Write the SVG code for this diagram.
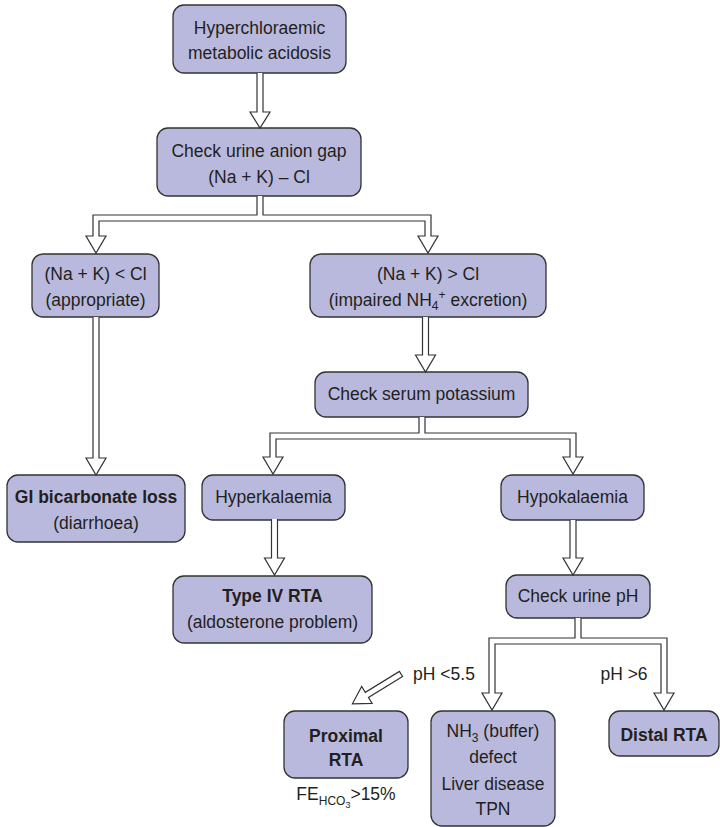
<svg xmlns="http://www.w3.org/2000/svg" width="720" height="827" viewBox="0 0 720 827">
<style>
.box{fill:#b9b9dd;stroke:#333;stroke-width:1.3}
.arr{fill:#fff;stroke:#333;stroke-width:1.2;stroke-linejoin:miter}
text{font-family:"Liberation Sans",Arial,sans-serif;font-size:17.5px;fill:#231f20;text-anchor:middle}
.b{font-weight:bold}
.s{font-size:12px}
</style>
<rect width="720" height="827" fill="#fff"/>
<g id="n1"><rect class="box" x="173" y="5" width="173" height="68" rx="11"/><text x="259.5" y="34">Hyperchloraemic</text><text x="259.5" y="59">metabolic acidosis</text></g>
<g id="n2"><rect class="box" x="157" y="128" width="204" height="68" rx="11"/><text x="259" y="157">Check urine anion gap</text><text x="259" y="183">(Na + K) – Cl</text></g>
<g id="n3"><rect class="box" x="32" y="254" width="127" height="63" rx="11"/><text x="95.5" y="280">(Na + K) &lt; Cl</text><text x="95.5" y="306">(appropriate)</text></g>
<g id="n4"><rect class="box" x="310" y="254" width="236" height="63" rx="11"/><text x="428" y="280">(Na + K) &gt; Cl</text><text x="428" y="306">(impaired NH<tspan class="s" dy="4">4</tspan><tspan class="s" dy="-11">+</tspan><tspan dy="7"> excretion)</tspan></text></g>
<g id="n5"><rect class="box" x="315" y="372" width="213" height="45" rx="11"/><text x="421.5" y="400">Check serum potassium</text></g>
<g id="n6"><rect class="box" x="202" y="475" width="143" height="45" rx="11"/><text x="273.5" y="503">Hyperkalaemia</text></g>
<g id="n7"><rect class="box" x="501" y="475" width="143" height="45" rx="11"/><text x="572.5" y="503">Hypokalaemia</text></g>
<g id="n8"><rect class="box" x="7" y="475" width="178" height="67" rx="11"/><text class="b" x="96" y="503">GI bicarbonate loss</text><text x="96" y="529">(diarrhoea)</text></g>
<g id="n9"><rect class="box" x="173" y="576" width="199" height="67" rx="11"/><text class="b" x="272.5" y="602">Type IV RTA</text><text x="272.5" y="628">(aldosterone problem)</text></g>
<g id="n10"><rect class="box" x="506" y="575" width="144" height="43" rx="11"/><text x="578" y="602">Check urine pH</text></g>
<g id="n11"><rect class="box" x="284" y="711" width="124" height="67" rx="11"/><text class="b" x="346" y="742">Proximal</text><text class="b" x="346" y="766">RTA</text><text x="346" y="800">FE<tspan class="s" dy="5">HCO</tspan><tspan font-size="9" dy="3">3</tspan><tspan dy="-8">&gt;15%</tspan></text></g>
<g id="n12"><rect class="box" x="431" y="711" width="124" height="115" rx="11"/><text x="493" y="737">NH<tspan class="s" dy="5">3</tspan><tspan dy="-5"> (buffer)</tspan></text><text x="493" y="763">defect</text><text x="493" y="790">Liver disease</text><text x="493" y="815">TPN</text></g>
<g id="n13"><rect class="box" x="609" y="711" width="110" height="45" rx="11"/><text class="b" x="664" y="741">Distal RTA</text></g>
<g id="labels"><text x="444" y="680">pH &lt;5.5</text><text x="624" y="680">pH &gt;6</text></g>
<g id="connectors">
<path class="arr" d="M257,73 V112 H250 L260,128 L270,112 H263 V73"/>
<path class="arr" d="M257,196 V215 H93 V236 H86 L96,253 L106,236 H99 V221 H425 V236 H418 L428,253 L438,236 H431 V215 H263 V196"/>
<path class="arr" d="M93,317 V458 H86 L96,475 L106,458 H99 V317"/>
<path class="arr" d="M422.5,317 V355 H415.5 L425.5,372 L435.5,355 H428.5 V317"/>
<path class="arr" d="M419,417 V433 H270 V457 H263 L273,474 L283,457 H276 V439 H570 V457 H563 L573,474 L583,457 H576 V433 H425 V417"/>
<path class="arr" d="M271.5,519 V558 H264.5 L274.5,575 L284.5,558 H277.5 V519"/>
<path class="arr" d="M570,520 V558 H563 L573,575 L583,558 H576 V520"/>
<path class="arr" d="M575,618 V638 H489 V693 H482 L492,710 L502,693 H495 V644 H661 V693 H654 L664,710 L674,693 H667 V638 H581 V618"/>
<path class="arr" transform="translate(401,674) rotate(148.5)" d="M0,-3 H40 V-10 L57,0 L40,10 V3 H0 Z"/>
</g>
</svg>
